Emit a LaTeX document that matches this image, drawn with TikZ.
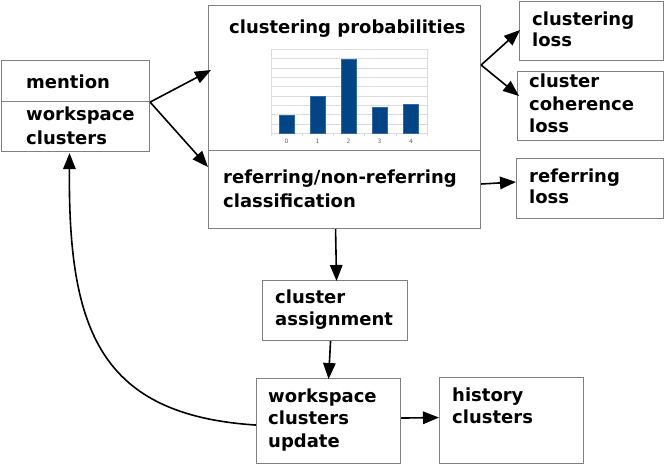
\documentclass[tikz,border=0pt]{standalone}
\usepackage{fontspec}
\setmainfont{DejaVu Sans}
\usetikzlibrary{arrows.meta,calc}
\definecolor{boxgray}{RGB}{128,128,128}
\definecolor{barblue}{RGB}{0,69,134}
\definecolor{gridgray}{RGB}{220,220,220}
\begin{document}
\begin{tikzpicture}[x=1pt,y=-1pt,
  box/.style={draw=boxgray, line width=1.1pt, anchor=north west, inner sep=0pt},
  lbl/.style={anchor=base west, inner sep=0pt, font=\fontsize{18}{20}\selectfont\bfseries},
  tick/.style={anchor=center, inner sep=0pt, font=\fontsize{6}{7}\selectfont, text=black!60},
  arr/.style={-{Triangle[length=16pt,width=12.5pt]}, line width=1.6pt, black},
  grid/.style={draw=gridgray, line width=0.6pt},
  bar/.style={fill=barblue, draw=barblue!80!white, line width=0.4pt}
  ]
\useasboundingbox (0,0) rectangle (664,464);
% boxes
\node[box, minimum width=272pt, minimum height=145pt] (prob) at (208,5) {};
\node[box, minimum width=272pt, minimum height=78pt] (refc) at (208,150) {};
\node[box, minimum width=148pt, minimum height=41pt] (mention) at (1,60) {};
\node[box, minimum width=148pt, minimum height=50pt] (wsc) at (1,101) {};
\node[box, minimum width=144pt, minimum height=59pt] (closs) at (519,1) {};
\node[box, minimum width=146pt, minimum height=69pt] (coh) at (517,71) {};
\node[box, minimum width=147pt, minimum height=60pt] (rloss) at (516,158) {};
\node[box, minimum width=145pt, minimum height=60pt] (assign) at (262,280) {};
\node[box, minimum width=144pt, minimum height=85pt] (update) at (256,378) {};
\node[box, minimum width=144pt, minimum height=86pt] (hist) at (439,377) {};
% chart
\foreach \k in {0,...,9} {
  \draw[grid] (271,{49.3+\k*9.35}) -- (427,{49.3+\k*9.35});
}
\draw[grid] (271,49.3) -- (271,136);
\draw[grid] (427,49.3) -- (427,136);
\foreach \xx in {302,333,364,396} { \draw[grid] (\xx,133.5) -- (\xx,136); }
\draw[bar] (279,114.7) rectangle (294,133.5);
\draw[bar] (310,96) rectangle (325,133.5);
\draw[bar] (341,58.7) rectangle (356,133.5);
\draw[bar] (372,107.3) rectangle (387,133.5);
\draw[bar] (403.5,103.7) rectangle (418.5,133.5);
\node[tick] (c0) at (286.5,141) {0};
\node[tick] (c1) at (317.5,141) {1};
\node[tick] (c2) at (348.5,141) {2};
\node[tick] (c3) at (379.5,141) {3};
\node[tick] (c4) at (411,141) {4};
% labels
\node[lbl] (tprob) at (229,33) {clustering probabilities};
\node[lbl] (tmen) at (26,88) {mention};
\node[lbl] (tws1) at (26,120) {workspace};
\node[lbl] (tws2) at (26,144) {clusters};
\node[lbl] (tref1) at (223,183) {referring/non-referring};
\node[lbl] (tref2) at (223,207) {classification};
\node[lbl] (tcl1) at (532,25) {clustering};
\node[lbl] (tcl2) at (532,46) {loss};
\node[lbl] (tco1) at (529,87) {cluster};
\node[lbl] (tco2) at (529,110) {coherence};
\node[lbl] (tco3) at (529,132) {loss};
\node[lbl] (trl1) at (529,182) {referring};
\node[lbl] (trl2) at (529,203) {loss};
\node[lbl] (tas1) at (275,303) {cluster};
\node[lbl] (tas2) at (275,325) {assignment};
\node[lbl] (tup1) at (268,402) {workspace};
\node[lbl] (tup2) at (268,424) {clusters};
\node[lbl] (tup3) at (268,447) {update};
\node[lbl] (thi1) at (452,401) {history};
\node[lbl] (thi2) at (452,423) {clusters};
% connectors
\draw[arr] (mention.south east) -- ($(prob.north west)+(3,65)$);
\draw[arr] (mention.south east) -- ($(refc.north west)+(0,17)$);
\coordinate (pr) at ($(prob.north east)+(0,60)$);
\draw[arr] (pr) -- ($(closs.north west)+(1,29)$);
\draw[arr] (pr) -- ($(coh.north west)+(2,25)$);
\draw[arr] ($(refc.north east)+(0,34)$) -- ($(rloss.north west)+(0,24)$);
\draw[arr] ($(refc.south)+(-9,0)$) -- ($(assign.north)+(1.5,1)$);
\draw[arr] ($(assign.south)+(-4.5,0)$) -- ($(update.north)+(0,1)$);
\draw[arr] ($(update.east)+(0,-3)$) -- ($(hist.west)+(0,-3)$);
\draw[arr] ($(update.west)+(0,4)$) .. controls (100,415) and (68,330) .. ($(wsc.south)+(-6,1)$);
\end{tikzpicture}
\end{document}
